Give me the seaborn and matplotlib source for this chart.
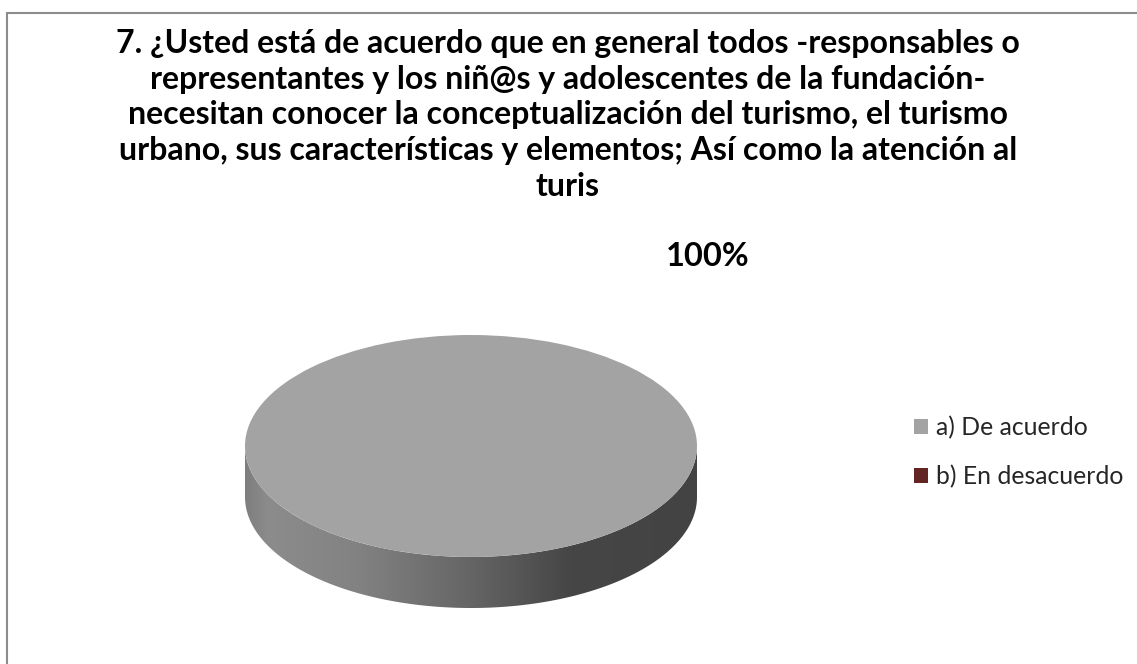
import numpy as np
import matplotlib
matplotlib.use("Agg")
import matplotlib.pyplot as plt
from matplotlib.patches import Polygon, Rectangle
from matplotlib.colors import LinearSegmentedColormap
import seaborn as sns

# ---- data ----
categories = ["a) De acuerdo", "b) En desacuerdo"]
values = [100, 0]
colors = ["#a3a3a3", "#632523"]
pct_labels = ["100%", ""]
title = ("7. ¿Usted está de acuerdo que en general todos -responsables o\n"
         "representantes y los niñ@s y adolescentes de la fundación-\n"
         "necesitan conocer la conceptualización del turismo, el turismo\n"
         "urbano, sus características y elementos; Así como la atención al\n"
         "turis")

sns.set_theme(style="white")
plt.rcParams["font.family"] = ["Lato", "DejaVu Sans"]

W, H = 1137, 664
fig = plt.figure(figsize=(W / 100, H / 100), dpi=100)
fig.patch.set_facecolor("white")

# border (top-left visible, continues beyond canvas)
fig.add_artist(Rectangle((7 / W, -0.1), 1.2, (H - 13) / H + 0.1,
                         transform=fig.transFigure, fill=False,
                         edgecolor="#8c8c8c", linewidth=1.5))

# title
fig.text(568 / W, 1 - 29 / H, title, ha="center", va="top",
         fontsize=23, fontweight="bold", color="black",
         linespacing=1.28)

# pie axes: ellipse x 245..697, top at 335, depth down to 608
depth = 0.46
x0, x1 = 245, 697
y_top, y_bot = 335, 608
ax = fig.add_axes([x0 / W, 1 - y_bot / H, (x1 - x0) / W, (y_bot - y_top) / H])
wedges, _ = ax.pie(values, colors=colors, startangle=90, counterclock=False,
                   radius=1, wedgeprops=dict(linewidth=0))
for w in wedges:
    w.set_zorder(3)
ax.set_aspect("auto")
ax.set_xlim(-1, 1)
ax.set_ylim(-1 - depth, 1)
ax.axis("off")

# side walls of wedges (front half only)
cmap = LinearSegmentedColormap.from_list(
    "side", [(0, "#7e7e7e"), (0.05, "#8c8c8c"), (0.25, "#828282"),
             (0.5, "#656565"), (0.72, "#464646"), (1, "#434343")])
grad = np.linspace(0, 1, 256)[None, :]
for w, v in zip(wedges, values):
    if v <= 0:
        continue
    t1, t2 = sorted([w.theta1, w.theta2])
    ts = np.linspace(t1, t2, 721)
    tsn = np.mod(ts, 360)
    front = ts[(tsn >= 180) & (tsn <= 360)] if t2 - t1 < 360 else np.linspace(180, 360, 361)
    if len(front) < 2:
        continue
    r = np.deg2rad(front)
    top = np.column_stack([np.cos(r), np.sin(r)])
    bot = np.column_stack([np.cos(r), np.sin(r) - depth])[::-1]
    poly = Polygon(np.vstack([top, bot]), closed=True, facecolor="none",
                   edgecolor="none")
    ax.add_patch(poly)
    im = ax.imshow(grad, cmap=cmap, extent=(-1, 1, -1 - depth, 0),
                   aspect="auto", zorder=2, interpolation="bilinear")
    im.set_clip_path(poly)
ax.set_xlim(-1, 1)
ax.set_ylim(-1 - depth, 1)

# percentage label
fig.text(708 / W, 1 - 256 / H, pct_labels[0], ha="center", va="center",
         fontsize=23.5, fontweight="bold", color="black")

# legend
handles = [Rectangle((0, 0), 1, 1, facecolor=c, edgecolor="none") for c in colors]
leg = fig.legend(handles, categories, loc="center left",
                 bbox_to_anchor=(914 / W, 1 - 452 / H), frameon=False,
                 fontsize=17.8, handlelength=0.57, handleheight=0.57,
                 handletextpad=0.3, labelspacing=1.05, borderpad=0,
                 borderaxespad=0)

fig.savefig("out.png", dpi=100, facecolor="white")
